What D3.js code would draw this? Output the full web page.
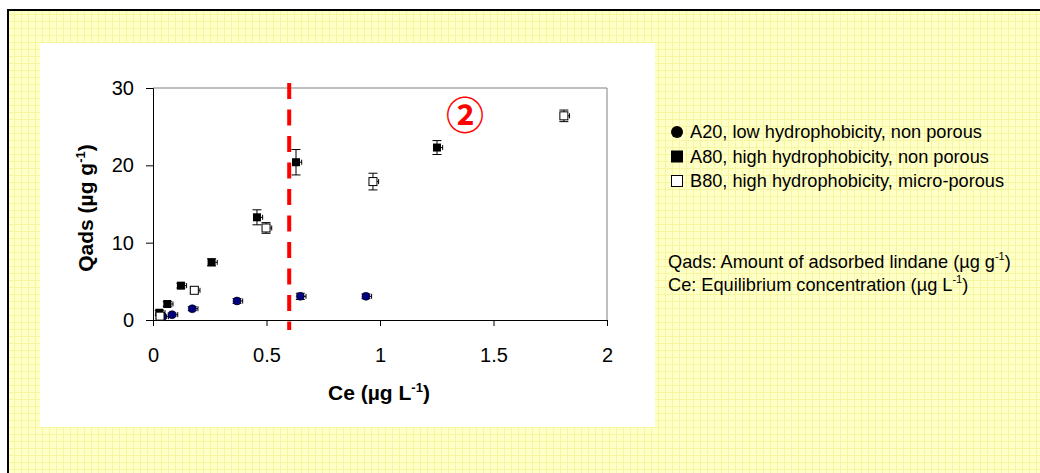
<!DOCTYPE html>
<html>
<head>
<meta charset="utf-8">
<script src="https://cdn.jsdelivr.net/npm/d3@7"></script>
<style>
  body { margin: 0; background: #fff; }
  text { font-family: "Liberation Sans", Arial, sans-serif; }
</style>
</head>
<body>
<svg id="chart" width="1040" height="473"></svg>
<script>
// A20, low hydrophobicity, non porous
const a20X = [0.043, 0.084, 0.173, 0.37, 0.649, 0.938];
const a20Y = [0.43, 0.69, 1.46, 2.46, 3.06, 3.06];
const a20Err = [0.2, 0.2, 0.25, 0.3, 0.4, 0.3];
// A80, high hydrophobicity, non porous
const a80X = [0.028, 0.063, 0.123, 0.258, 0.458, 0.63, 1.251];
const a80Y = [0.94, 2.07, 4.44, 7.46, 13.28, 20.4, 22.3];
const a80Err = [0.3, 0.3, 0.3, 0.45, 0.97, 1.64, 0.9];
// B80, high hydrophobicity, micro-porous
const b80X = [0.031, 0.182, 0.498, 0.969, 1.81];
const b80Y = [0.5, 3.84, 11.9, 17.9, 26.4];
const b80Err = [0.3, 0.3, 0.69, 1.08, 0.75];
// small x error bars (drawn on the plus side only)
const xErr = 0.025;

const xTicks = [0, 0.5, 1, 1.5, 2];
const yTicks = [0, 10, 20, 30];
const cutoff = 0.6;
const zoneLabel = { x: 1.374, y: 26.8, text: "②" };

const legendItems = [
  "A20, low hydrophobicity, non porous",
  "A80, high hydrophobicity, non porous",
  "B80, high hydrophobicity, micro-porous"
];

const svg = d3.select("#chart");

// yellow grid paper background
const defs = svg.append("defs");
const pat = defs.append("pattern")
  .attr("id", "paper")
  .attr("width", 7)
  .attr("height", 7)
  .attr("patternUnits", "userSpaceOnUse");
pat.append("rect").attr("width", 7).attr("height", 7).attr("fill", "#ffffc8");
pat.append("path").attr("d", "M0,0.5H7M0.5,0V7").attr("stroke", "#f6f6a0").attr("stroke-width", 1);

svg.append("rect")
  .attr("x", 8).attr("y", 10)
  .attr("width", 1050).attr("height", 480)
  .attr("fill", "url(#paper)")
  .attr("stroke", "#000")
  .attr("stroke-width", 2);

// white chart panel
svg.append("rect")
  .attr("x", 40).attr("y", 43)
  .attr("width", 615).attr("height", 384)
  .attr("fill", "#fff");

const x = d3.scaleLinear().domain([0, 2]).range([153, 607]);
const y = d3.scaleLinear().domain([0, 30]).range([320, 88]);

// plot frame (top and right)
svg.append("path")
  .attr("d", `M${x(0)},${y(30)}H${x(2)}V${y(0)}`)
  .attr("fill", "none")
  .attr("stroke", "#808080")
  .attr("stroke-width", 1);

const xAxis = svg.append("g")
  .attr("transform", `translate(0,${y(0)})`)
  .call(d3.axisBottom(x).tickValues(xTicks).tickSize(6).tickPadding(22).tickFormat(d3.format("")));
const yAxis = svg.append("g")
  .attr("transform", `translate(${x(0)},0)`)
  .call(d3.axisLeft(y).tickValues(yTicks).tickSize(7).tickPadding(12));
[xAxis, yAxis].forEach(function (g) {
  g.select(".domain").attr("stroke", "#000");
  g.selectAll(".tick line").attr("stroke", "#000");
  g.selectAll(".tick text")
    .attr("fill", "#000")
    .style("font-family", "Liberation Sans, Arial, sans-serif")
    .style("font-size", "20px");
});
xAxis.selectAll(".tick text").attr("dy", "0.72em");

// axis titles
const xTitle = svg.append("text")
  .attr("x", 379).attr("y", 400)
  .attr("text-anchor", "middle")
  .style("font-size", "21px")
  .style("font-weight", "bold");
xTitle.append("tspan").text("Ce (µg L");
xTitle.append("tspan").attr("dy", -8).style("font-size", "13px").text("-1");
xTitle.append("tspan").attr("dy", 8).text(")");

const yTitle = svg.append("text")
  .attr("transform", "translate(93,208) rotate(-90)")
  .attr("text-anchor", "middle")
  .style("font-size", "21px")
  .style("font-weight", "bold");
yTitle.append("tspan").text("Qads (µg g");
yTitle.append("tspan").attr("dy", -8).style("font-size", "13px").text("-1");
yTitle.append("tspan").attr("dy", 8).text(")");

// boundary line
svg.append("line")
  .attr("x1", x(cutoff)).attr("x2", x(cutoff))
  .attr("y1", y(30) - 5).attr("y2", y(0) + 10)
  .attr("stroke", "#ff0000")
  .attr("stroke-width", 4)
  .attr("stroke-dasharray", "16,10.5");

svg.append("text")
  .attr("x", x(zoneLabel.x)).attr("y", y(zoneLabel.y))
  .attr("text-anchor", "middle")
  .attr("dominant-baseline", "central")
  .attr("fill", "#ff0000")
  .style("font-family", "Noto Sans CJK JP, DejaVu Sans, sans-serif")
  .style("font-size", "38px")
  .style("font-weight", "bold")
  .text(zoneLabel.text);

function series(xs, ys, errs) {
  return xs.map(function (d, i) { return { x: d, y: ys[i], e: errs[i] }; });
}
const a20 = series(a20X, a20Y, a20Err);
const a80 = series(a80X, a80Y, a80Err);
const b80 = series(b80X, b80Y, b80Err);

function errorBars(data) {
  const g = svg.append("g").attr("stroke", "#000").attr("stroke-width", 1).attr("fill", "none");
  data.forEach(function (d) {
    const cx = x(d.x), top = y(d.y + d.e), bot = y(d.y - d.e);
    g.append("path").attr("d", `M${cx},${top}V${bot}M${cx - 4.5},${top}H${cx + 4.5}M${cx - 4.5},${bot}H${cx + 4.5}`);
    const xr = x(d.x + xErr);
    g.append("path").attr("d", `M${cx},${y(d.y)}H${xr}M${xr},${y(d.y) - 2.5}V${y(d.y) + 2.5}`);
  });
}
errorBars(a20);
errorBars(a80);
errorBars(b80);

svg.append("g").selectAll("circle")
  .data(a20).enter().append("circle")
  .attr("cx", d => x(d.x)).attr("cy", d => y(d.y))
  .attr("r", 4)
  .attr("fill", "#000080")
  .attr("stroke", "#000")
  .attr("stroke-width", 0.6);

svg.append("g").selectAll("rect")
  .data(a80).enter().append("rect")
  .attr("x", d => x(d.x) - 4).attr("y", d => y(d.y) - 4)
  .attr("width", 8).attr("height", 8)
  .attr("fill", "#000");

svg.append("g").selectAll("rect")
  .data(b80).enter().append("rect")
  .attr("x", d => x(d.x) - 4).attr("y", d => y(d.y) - 4)
  .attr("width", 8).attr("height", 8)
  .attr("fill", "#fff")
  .attr("stroke", "#000")
  .attr("stroke-width", 1);

// legend
const legend = svg.append("g");
legendItems.forEach(function (label, i) {
  const cy = 132 + i * 24.5;
  if (i === 0) {
    legend.append("circle").attr("cx", 677).attr("cy", cy).attr("r", 6).attr("fill", "#000");
  } else {
    legend.append("rect")
      .attr("x", 671.5).attr("y", cy - 5.5)
      .attr("width", 11).attr("height", 11)
      .attr("fill", i === 1 ? "#000" : "#fff")
      .attr("stroke", "#000").attr("stroke-width", 1);
  }
  legend.append("text")
    .attr("x", 690).attr("y", cy)
    .attr("dominant-baseline", "central")
    .style("font-size", "18.2px")
    .text(label);
});

const note1 = legend.append("text").attr("x", 668).attr("y", 262)
  .attr("dominant-baseline", "central").style("font-size", "18.2px");
note1.append("tspan").text("Qads: Amount of adsorbed lindane (µg g");
note1.append("tspan").attr("dy", -6).style("font-size", "11px").text("-1");
note1.append("tspan").attr("dy", 6).text(")");

const note2 = legend.append("text").attr("x", 668).attr("y", 285)
  .attr("dominant-baseline", "central").style("font-size", "18.2px");
note2.append("tspan").text("Ce: Equilibrium concentration (µg L");
note2.append("tspan").attr("dy", -6).style("font-size", "11px").text("-1");
note2.append("tspan").attr("dy", 6).text(")");
</script>
</body>
</html>
